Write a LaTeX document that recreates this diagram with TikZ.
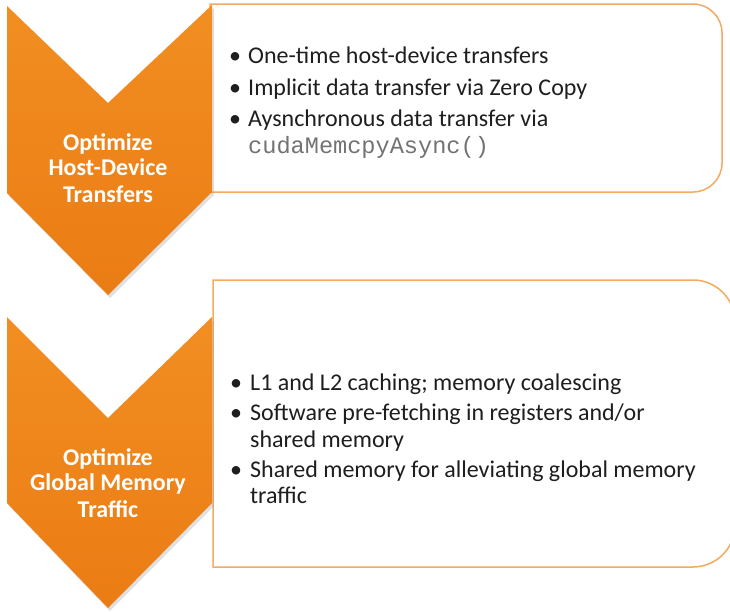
\documentclass[tikz,border=0pt]{standalone}
\usepackage{fontspec}
\setmainfont{Carlito}
\newfontfamily\codefont{Liberation Mono}
\definecolor{chevtop}{RGB}{241,142,34}
\definecolor{chevbot}{RGB}{235,124,20}
\definecolor{boxline}{RGB}{244,170,98}
\definecolor{codegray}{RGB}{115,115,115}
\definecolor{txt}{RGB}{30,30,30}
\begin{document}
\begin{tikzpicture}[x=1pt,y=-1pt,
  chev/.style={top color=chevtop,bottom color=chevbot,draw=none},
  chevshadow/.style={fill=black!35,draw=none,opacity=0.35},
  infobox/.style={draw=boxline,line width=1.5pt,fill=white},
  chevtext/.style={text=white,font=\fontsize{24}{25}\selectfont\bfseries,anchor=base,inner sep=0pt},
  itemtext/.style={text=txt,font=\fontsize{24}{28}\selectfont,anchor=base west,inner sep=0pt},
  bullet/.style={text=txt,font=\fontsize{24}{28}\selectfont,anchor=base west,inner sep=0pt},
  codetext/.style={text=codegray,font=\codefont\fontsize{23.6}{28}\selectfont,anchor=base west,inner sep=0pt}]
\useasboundingbox (0,0) rectangle (730,611);
\begin{scope}
\clip (0,0) rectangle (730,611);
% boxes
\draw[infobox] (210,4) -- (693,4) arc[start angle=-90,end angle=0,radius=29] -- (722,163)
  arc[start angle=0,end angle=90,radius=29] -- (210,192) -- cycle;
\draw[infobox] (213,280) -- (693,280) arc[start angle=-90,end angle=0,radius=42] -- (735,525)
  arc[start angle=0,end angle=90,radius=42] -- (213,567) -- cycle;
% chevron shadows
\fill[chevshadow] (9,9) -- (109,106) -- (214,8) -- (214,195) -- (110,298) -- (9,196) -- cycle;
\fill[chevshadow] (9,320) -- (109,421) -- (214,320) -- (214,506) -- (110,611) -- (9,506) -- cycle;
% chevrons
\path[chev] (7,6) -- (108,103) -- (212,5) -- (212,192) -- (108,295) -- (7,193) -- cycle;
\path[chev] (7,317) -- (108,418) -- (212,317) -- (212,503) -- (108,608) -- (7,503) -- cycle;
\end{scope}
% chevron texts
\node[chevtext] (c1a) at (108,150) {Optimize};
\node[chevtext] (c1b) at (108,175) {Host-Device};
\node[chevtext] (c1c) at (108,202) {Transfers};
\node[chevtext] (c2a) at (108,465) {Optimize};
\node[chevtext] (c2b) at (108,490) {Global Memory};
\node[chevtext] (c2c) at (108,517) {Traffic};
% top box items
\node[bullet] (b1) at (229,63) {•};
\node[itemtext] (t1) at (248,63) {One-time host-device transfers};
\node[bullet] (b2) at (229,95) {•};
\node[itemtext] (t2) at (248,95) {Implicit data transfer via Zero Copy};
\node[bullet] (b3) at (229,126) {•};
\node[itemtext] (t3) at (248,126) {Aysnchronous data transfer via};
\node[codetext] (t3b) at (248,153) {cudaMemcpyAsync()};
% bottom box items
\node[bullet] (b4) at (230,390) {•};
\node[itemtext] (t4) at (250,390) {L1 and L2 caching; memory coalescing};
\node[bullet] (b5) at (230,420) {•};
\node[itemtext] (t5) at (250,420) {Software pre-fetching in registers and/or};
\node[itemtext] (t5b) at (250,447) {shared memory};
\node[bullet] (b6) at (230,477) {•};
\node[itemtext] (t6) at (250,477) {Shared memory for alleviating global memory};
\node[itemtext] (t6b) at (250,503) {traffic};
\end{tikzpicture}
\end{document}
